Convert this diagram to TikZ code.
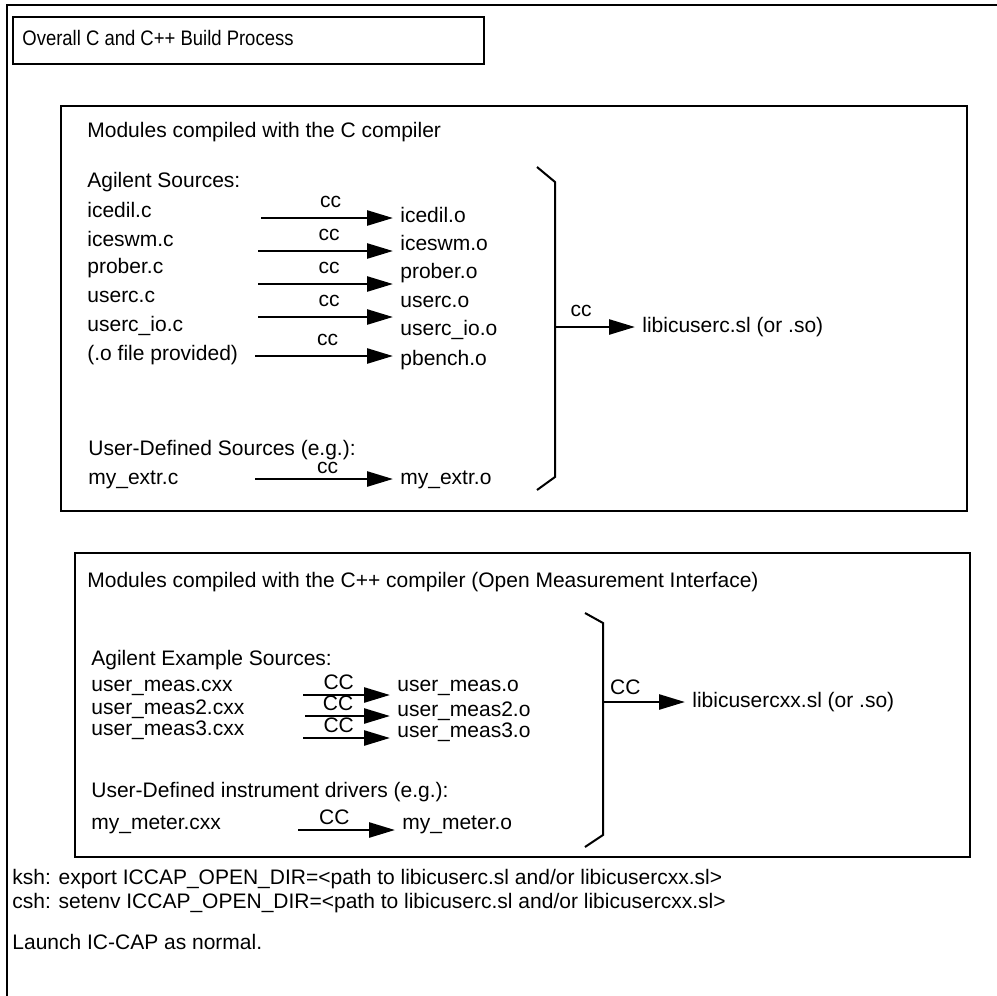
\documentclass[tikz,border=0pt]{standalone}
\usepackage{fontspec}
\setmainfont{Liberation Sans}
\usetikzlibrary{arrows.meta}
\begin{document}
\begin{tikzpicture}[x=0.5pt,y=-0.5pt,
  every node/.style={font=\fontsize{10.5}{12}\selectfont,inner sep=0pt,anchor=west},
  frame/.style={line width=1.4pt},
  brace/.style={line width=1pt},
  ccarrow/.style={line width=1.3pt,shorten >=3.5pt,-{Triangle[length=13pt,width=7.5pt]}},
  cclabel/.style={anchor=south,inner sep=4.5pt},
  cxxlabel/.style={anchor=south,inner sep=2pt}]
\useasboundingbox (0,0) rectangle (997,996);
\draw[frame] (7,996) -- (7,5) -- (997,5);
% title
\draw[frame] (13,17) rectangle (484,64);
\node[font=\fontsize{10.5}{12}\selectfont\addfontfeature{FakeStretch=0.88}] (title) at (22,38) {Overall C and C++ Build Process};
% C modules
\draw[frame] (61,106) rectangle (967,511);
\node (chead) at (87,132) {Modules compiled with the C compiler};
\node (csrc) at (87,182) {Agilent Sources:};
\node (s1) at (87,210) {icedil.c};
\node (s2) at (87,239) {iceswm.c};
\node (s3) at (87,268) {prober.c};
\node (s4) at (87,297) {userc.c};
\node (s5) at (87,326) {userc\_io.c};
\node (s6) at (87,355) {(.o file provided)};
\node (t1) at (400,215) {icedil.o};
\node (t2) at (400,243) {iceswm.o};
\node (t3) at (400,273) {prober.o};
\node (t4) at (400,302) {userc.o};
\node (t5) at (400,330) {userc\_io.o};
\node (t6) at (400,360) {pbench.o};
\coordinate (a1) at (261,218);
\coordinate (a2) at (258,251);
\coordinate (a3) at (258,284);
\coordinate (a4) at (258,317);
\coordinate (a6) at (255,356);
\draw[ccarrow] (a1) -- (a1 -| t1.west) node[cclabel,midway] {cc};
\draw[ccarrow] (a2) -- (a2 -| t2.west) node[cclabel,midway] {cc};
\draw[ccarrow] (a3) -- (a3 -| t3.west) node[cclabel,midway] {cc};
\draw[ccarrow] (a4) -- (a4 -| t4.west) node[cclabel,midway] {cc};
\draw[ccarrow] (a6) -- (a6 -| t6.west) node[cclabel,midway] {cc};
\node (cuser) at (88,450) {User-Defined Sources (e.g.):};
\node (s7) at (88,480) {my\_extr.c};
\node (t7) at (400,480) {my\_extr.o};
\coordinate (a7) at (255,479);
\draw[ccarrow] (a7) -- (a7 -| t7.west) node[cclabel,inner sep=2pt,midway] {cc};
\draw[brace] (537,167) -- (555,182) -- (555,477) -- (537,490);
\coordinate (cb) at (555,327);
\node (clib) at (642,327) {libicuserc.sl (or .so)};
\draw[ccarrow] (cb) -- (clib.west) node[cclabel,pos=0.3] {cc};
% C++ modules
\draw[frame] (75,553) rectangle (970,857);
\node (xhead) at (87,582) {Modules compiled with the C++ compiler (Open Measurement Interface)};
\node (xsrc) at (91,660) {Agilent Example Sources:};
\node (u1) at (91,688) {user\_meas.cxx};
\node (u2) at (91,709) {user\_meas2.cxx};
\node (u3) at (91,730) {user\_meas3.cxx};
\node (o1) at (397,688) {user\_meas.o};
\node (o2) at (397,711) {user\_meas2.o};
\node (o3) at (397,732) {user\_meas3.o};
\coordinate (b1) at (303,695);
\coordinate (b2) at (305,716);
\coordinate (b3) at (303,738);
\draw[ccarrow] (b1) -- (b1 -| o1.west) node[cxxlabel,pos=0.38] {CC};
\draw[ccarrow] (b2) -- (b2 -| o2.west) node[cxxlabel,pos=0.36] {CC};
\draw[ccarrow] (b3) -- (b3 -| o3.west) node[cxxlabel,pos=0.38] {CC};
\node (xuser) at (91,792) {User-Defined instrument drivers (e.g.):};
\node (u4) at (91,825) {my\_meter.cxx};
\node (o4) at (402,825) {my\_meter.o};
\coordinate (b4) at (298,830);
\draw[ccarrow] (b4) -- (b4 -| o4.west) node[cxxlabel,pos=0.35] {CC};
\draw[brace] (585,613) -- (603,623) -- (603,835) -- (585,847);
\coordinate (xb) at (603,702);
\node (xlib) at (692,702) {libicusercxx.sl (or .so)};
\draw[ccarrow] (xb) -- (xlib.west) node[cxxlabel,inner sep=3pt,pos=0.25] {CC};
% environment
\node (ksh) at (12,879) {ksh: export ICCAP\_OPEN\_DIR=<path to libicuserc.sl and/or libicusercxx.sl>};
\node (csh) at (12,903) {csh: setenv ICCAP\_OPEN\_DIR=<path to libicuserc.sl and/or libicusercxx.sl>};
\node (run) at (12,942) {Launch IC-CAP as normal.};
\end{tikzpicture}
\end{document}
